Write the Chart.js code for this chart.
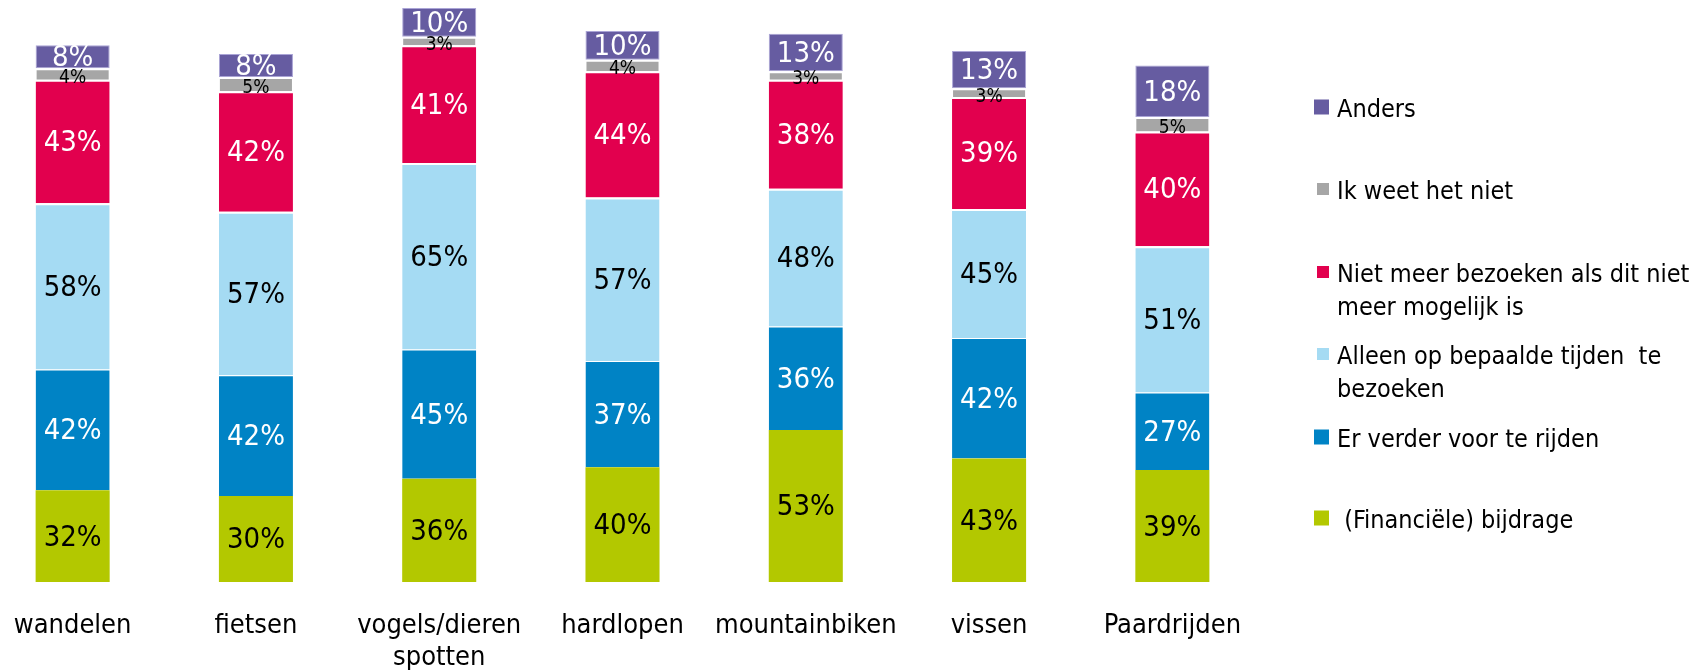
<!DOCTYPE html>
<html>
<head>
<meta charset="utf-8">
<script src="https://cdn.jsdelivr.net/npm/chart.js@4.4.1/dist/chart.umd.min.js"></script>
<style>
  html, body { margin: 0; padding: 0; background: #ffffff; }
  #wrap { position: relative; width: 1706px; height: 670px; overflow: hidden; }
  /* the plot area starts a little left of the page edge, as in the original */
  #inner { position: absolute; left: -19px; top: 0; width: 1725px; height: 670px; }
</style>
</head>
<body>
<div id="wrap"><div id="inner"><canvas id="chart"></canvas></div></div>
<script>
// Categories (bottom axis)
var categories = [
    'wandelen', 'fietsen', ['vogels/dieren', 'spotten'], 'hardlopen',
    'mountainbiken', 'vissen', 'Paardrijden'
];

// Series, bottom to top of each stack
var financieel = [32, 30, 36, 40, 53, 43, 39];
var verderRijden = [42, 42, 45, 37, 36, 42, 27];
var bepaaldeTijden = [58, 57, 65, 57, 48, 45, 51];
var nietMeer = [43, 42, 41, 44, 38, 39, 40];
var weetNiet = [4, 5, 3, 4, 3, 3, 5];
var anders = [8, 8, 10, 10, 13, 13, 18];

var seriesNames = [
    ' (Financiële) bijdrage',
    'Er verder voor te rijden',
    'Alleen op bepaalde tijden  te bezoeken',
    'Niet meer bezoeken als dit niet meer mogelijk is',
    'Ik weet het niet',
    'Anders'
];

var FONT = '"DejaVu Sans Condensed", "DejaVu Sans", Verdana, sans-serif';
var SHIFT = 19; // canvas starts 19px left of the page
Chart.defaults.font.family = FONT;
Chart.defaults.color = '#000000';

// value labels inside the segments
var barLabels = {
    id: 'barLabels',
    afterDatasetsDraw: function (chart) {
        var ctx = chart.ctx;
        ctx.save();
        ctx.textAlign = 'center';
        ctx.textBaseline = 'middle';
        chart.data.datasets.forEach(function (ds, i) {
            var meta = chart.getDatasetMeta(i);
            var small = ds.smallLabel;
            ctx.font = (small ? 19 : 29) + 'px ' + FONT;
            ctx.fillStyle = ds.labelColor;
            meta.data.forEach(function (bar, j) {
                var p = bar.getProps(['x', 'y', 'base'], true);
                var cy = (p.y + p.base) / 2 + (small ? 4 : 2);
                ctx.fillText(ds.data[j] + '%', p.x, cy);
            });
        });
        ctx.restore();
    }
};

// legend on the right, with wrapped text
var sideLegend = {
    id: 'sideLegend',
    afterDraw: function (chart) {
        var ctx = chart.ctx;
        var baselines = [117, 199, 282, 364, 447, 528];
        var textX = 1337 + SHIFT, markRight = 1329 + SHIFT, maxW = 360, lineH = 33;
        ctx.save();
        ctx.font = '25px ' + FONT;
        ctx.textBaseline = 'alphabetic';
        var order = chart.data.datasets.slice().reverse();
        order.forEach(function (ds, k) {
            var words = ds.label.split(' ');
            var lines = [], cur = '';
            words.forEach(function (w, n) {
                var test = n === 0 ? w : cur + ' ' + w;
                if (cur !== '' && ctx.measureText(test).width > maxW) {
                    lines.push(cur);
                    cur = w;
                } else {
                    cur = test;
                }
            });
            lines.push(cur);
            var y = baselines[k];
            var s = ds.markerSize;
            ctx.fillStyle = ds.backgroundColor;
            ctx.fillRect(markRight - s, y - 10 - s / 2, s, s);
            ctx.fillStyle = '#000000';
            lines.forEach(function (t, n) {
                ctx.fillText(t, textX, y + n * lineH);
            });
        });
        ctx.restore();
    }
};

var ctx = document.getElementById('chart').getContext('2d');
var myChart = new Chart(ctx, {
    type: 'bar',
    data: {
        labels: categories,
        datasets: [{
                label: seriesNames[0],
                data: financieel,
                backgroundColor: '#b3c800',
                borderWidth: 0,
                labelColor: '#000000',
                markerSize: 15
            },
            {
                label: seriesNames[1],
                data: verderRijden,
                backgroundColor: '#0083c5',
                borderColor: '#ffffff',
                borderWidth: {top: 1, right: 0, bottom: 0, left: 0},
                borderSkipped: false,
                labelColor: '#ffffff',
                markerSize: 15
            },
            {
                label: seriesNames[2],
                data: bepaaldeTijden,
                backgroundColor: '#a5dbf3',
                borderColor: '#ffffff',
                borderWidth: {top: 2, right: 0, bottom: 0, left: 0},
                borderSkipped: false,
                labelColor: '#000000',
                markerSize: 12
            },
            {
                label: seriesNames[3],
                data: nietMeer,
                backgroundColor: '#e2004e',
                borderColor: '#ffffff',
                borderWidth: {top: 2, right: 0, bottom: 0, left: 0},
                borderSkipped: false,
                labelColor: '#ffffff',
                markerSize: 12
            },
            {
                label: seriesNames[4],
                data: weetNiet,
                backgroundColor: '#a6a6a6',
                borderColor: '#ffffff',
                borderWidth: {top: 2, right: 1, bottom: 0, left: 1},
                borderSkipped: false,
                labelColor: '#000000',
                smallLabel: true,
                markerSize: 12
            },
            {
                label: seriesNames[5],
                data: anders,
                backgroundColor: '#665ca1',
                borderColor: '#aaa4d6',
                borderWidth: 1,
                borderSkipped: false,
                labelColor: '#ffffff',
                markerSize: 15
            }
        ]
    },
    options: {
        responsive: true,
        maintainAspectRatio: false,
        animation: false,
        layout: {
            padding: {left: 0, right: 442, top: 8, bottom: 0}
        },
        datasets: {
            bar: {categoryPercentage: 1, barPercentage: 0.404}
        },
        plugins: {
            legend: {display: false},
            tooltip: {enabled: false}
        },
        scales: {
            x: {
                stacked: true,
                grid: {display: false, drawTicks: false},
                border: {display: false},
                ticks: {
                    color: '#000000',
                    font: {size: 27, lineHeight: 1.18},
                    padding: 28,
                    maxRotation: 0,
                    autoSkip: false
                },
                afterFit: function (scale) {
                    scale.height = 88;
                }
            },
            y: {
                stacked: true,
                display: false,
                min: 0,
                max: 200
            }
        }
    },
    plugins: [barLabels, sideLegend]
});
</script>
</body>
</html>
